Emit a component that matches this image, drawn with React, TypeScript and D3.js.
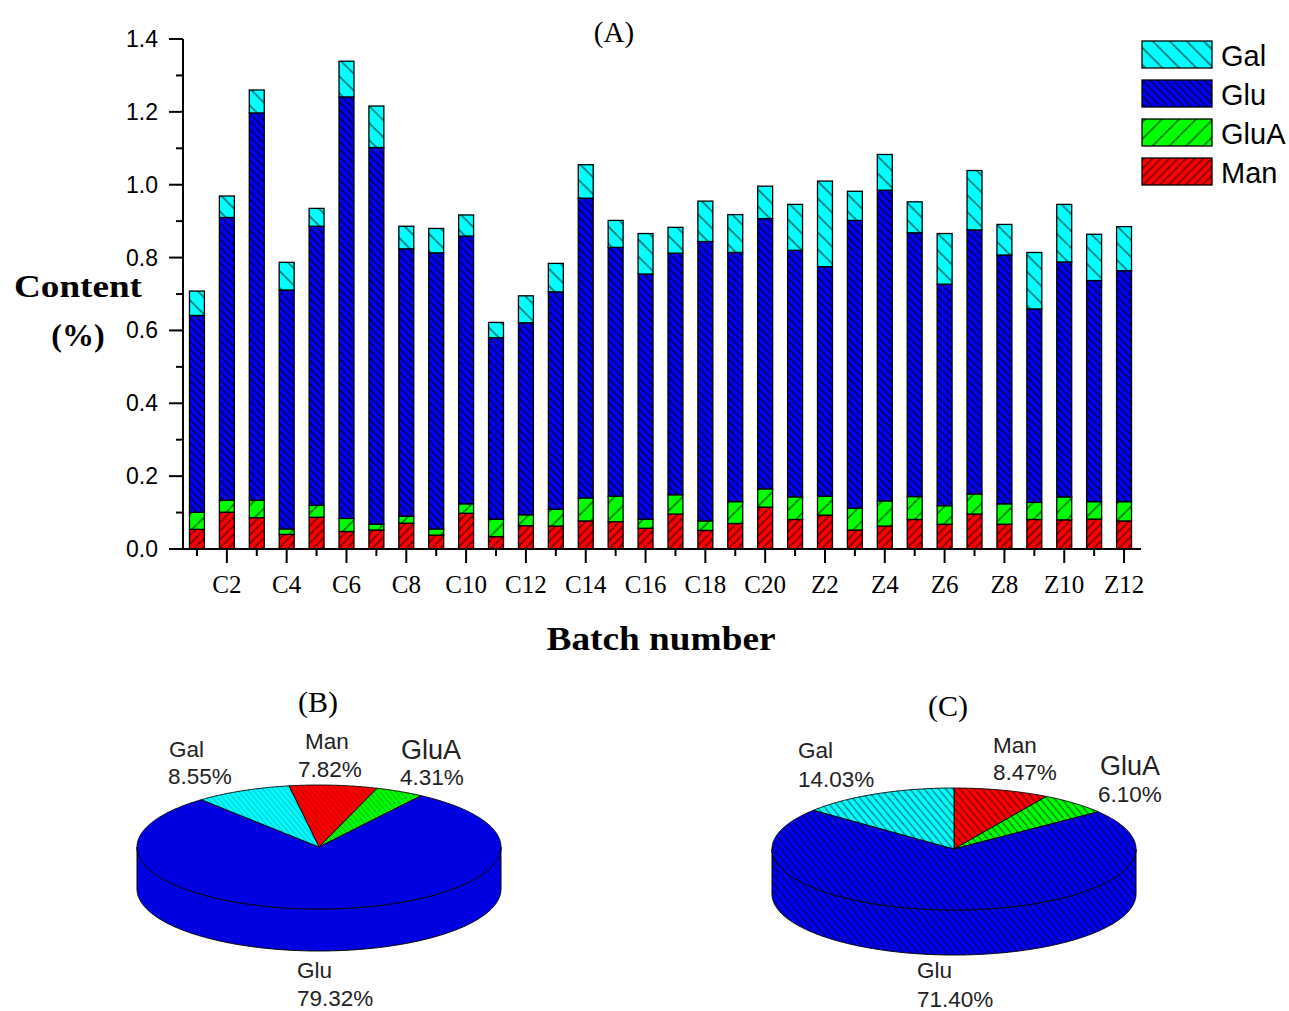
import React from 'react';
import * as d3 from 'd3';

// ---------- data ----------
const batches = [
  'C1','C2','C3','C4','C5','C6','C7','C8','C9','C10',
  'C11','C12','C13','C14','C15','C16','C17','C18','C19','C20',
  'Z1','Z2','Z3','Z4','Z5','Z6','Z7','Z8','Z9','Z10','Z11','Z12',
];
const man  = [0.054,0.101,0.086,0.040,0.087,0.048,0.052,0.071,0.038,0.098,0.034,0.064,0.063,0.077,0.075,0.057,0.096,0.051,0.070,0.115,0.081,0.093,0.052,0.063,0.081,0.068,0.096,0.068,0.081,0.080,0.082,0.077];
const glua = [0.047,0.033,0.048,0.015,0.033,0.036,0.016,0.019,0.017,0.026,0.048,0.030,0.046,0.063,0.070,0.025,0.053,0.026,0.060,0.050,0.062,0.052,0.060,0.069,0.063,0.051,0.055,0.056,0.047,0.063,0.048,0.053];
const glu  = [0.540,0.776,1.063,0.656,0.766,1.157,1.034,0.734,0.758,0.735,0.498,0.527,0.597,0.823,0.683,0.673,0.663,0.767,0.684,0.742,0.677,0.630,0.790,0.853,0.724,0.608,0.725,0.683,0.531,0.645,0.607,0.634];
const gal  = [0.067,0.059,0.063,0.076,0.049,0.098,0.114,0.062,0.067,0.058,0.042,0.074,0.078,0.092,0.074,0.111,0.071,0.111,0.104,0.089,0.126,0.235,0.080,0.098,0.085,0.139,0.163,0.084,0.155,0.158,0.127,0.121];

const stackKeys = ['Man', 'GluA', 'Glu', 'Gal'];
const legendKeys = ['Gal', 'Glu', 'GluA', 'Man'];
const yTicks = [0, 0.2, 0.4, 0.6, 0.8, 1.0, 1.2, 1.4];
const yMinorTicks = [0.1, 0.3, 0.5, 0.7, 0.9, 1.1, 1.3];
const xTickLabels = ['C2','C4','C6','C8','C10','C12','C14','C16','C18','C20','Z2','Z4','Z6','Z8','Z10','Z12'];

const pieKeys = ['Man', 'GluA', 'Glu', 'Gal'];
const pieB = [7.82, 4.31, 79.32, 8.55];
const pieC = [8.47, 6.10, 71.40, 14.03];

// ---------- styles ----------
const colors: Record<string, string> = { Gal: '#00ffff', Glu: '#0000f0', GluA: '#00ff00', Man: '#ff0000' };
const hatch: Record<string, { s: number; dir: number }> = {
  Gal: { s: 12, dir: -45 },
  Glu: { s: 5.5, dir: -45 },
  GluA: { s: 12, dir: 45 },
  Man: { s: 6, dir: 45 },
};
const pieLineB: Record<string, string> = { Gal: '#00a8b8', Glu: '#0000a0', GluA: '#00a000', Man: '#b00000' };

const SANS = '"Liberation Sans", Arial, Helvetica, sans-serif';
const SERIF = '"Liberation Serif", "Times New Roman", Times, serif';

const x = d3.scaleBand<string>().domain(batches).range([182, 1139]).paddingInner(0.5).paddingOuter(0.25);
const y = d3.scaleLinear().domain([0, 1.4]).range([549, 39]);

function Pie3D({ cx, cy, rx, ry, depth, values, startDeg, pat }: any) {
  const a0 = (startDeg * Math.PI) / 180;
  const arcs = d3.pie<number>().sort(null).startAngle(a0).endAngle(a0 + 2 * Math.PI)(values);
  const pt = (a: number, dy = 0): [number, number] => [cx + rx * Math.sin(a), cy - ry * Math.cos(a) + dy];
  const arcPts = (s: number, e: number, dy = 0) => {
    const n = Math.max(2, Math.ceil(Math.abs(e - s) / 0.01));
    return d3.range(n + 1).map((i) => pt(s + ((e - s) * i) / n, dy));
  };
  const line = d3.line();
  const sides: any[] = [];
  arcs.forEach((a, i) => {
    for (const k of [-1, 0, 1]) {
      const lo = Math.max(a.startAngle, Math.PI / 2 + 2 * Math.PI * k);
      const hi = Math.min(a.endAngle, (3 * Math.PI) / 2 + 2 * Math.PI * k);
      if (hi > lo) {
        const pts = [...arcPts(lo, hi, 0), ...arcPts(hi, lo, depth)];
        sides.push(<path key={`s${i}${k}`} d={line(pts) + 'Z'} fill={`url(#${pat}-${pieKeys[i]})`} stroke="#000" strokeWidth={1} />);
      }
    }
  });
  return (
    <g>
      {sides}
      {arcs.map((a, i) => {
        const pts: [number, number][] = [[cx, cy], ...arcPts(a.startAngle, a.endAngle, 0)];
        return <path key={i} d={line(pts) + 'Z'} fill={`url(#${pat}-${pieKeys[i]})`} stroke="#000" strokeWidth={0.9} strokeLinejoin="round" />;
      })}
    </g>
  );
}

export default function App() {
  const rows = batches.map((b, i) => ({ batch: b, Man: man[i], GluA: glua[i], Glu: glu[i], Gal: gal[i] }));
  const series = d3.stack<any>().keys(stackKeys)(rows);
  const bw = x.bandwidth();

  return (
    <svg width={1289} height={1011} style={{ position: 'absolute', left: 0, top: 0, display: 'block', background: '#fff' }}>
      <defs>
        {Object.keys(colors).map((k) => (
          <pattern key={k} id={`bar-${k}`} patternUnits="userSpaceOnUse" width={hatch[k].s} height={hatch[k].s} patternTransform={`rotate(${hatch[k].dir})`}>
            <rect width={hatch[k].s} height={hatch[k].s} fill={colors[k]} />
            <line x1={hatch[k].s / 2} y1={-1} x2={hatch[k].s / 2} y2={hatch[k].s + 1} stroke="#000" strokeWidth={0.9} />
          </pattern>
        ))}
        {Object.keys(colors).map((k) => (
          <pattern key={k} id={`pb-${k}`} patternUnits="userSpaceOnUse" width={4} height={4} patternTransform="rotate(-40)">
            <rect width={4} height={4} fill={colors[k]} />
            <line x1={2} y1={-1} x2={2} y2={5} stroke={pieLineB[k]} strokeWidth={0.8} />
          </pattern>
        ))}
        {Object.keys(colors).map((k) => (
          <pattern key={k} id={`pc-${k}`} patternUnits="userSpaceOnUse" width={5.5} height={5.5} patternTransform="rotate(-40)">
            <rect width={5.5} height={5.5} fill={colors[k]} />
            <line x1={2.75} y1={-1} x2={2.75} y2={6.5} stroke="#000" strokeWidth={0.8} strokeOpacity={0.85} />
          </pattern>
        ))}
      </defs>

      {/* Title A */}
      <text x={614} y={42} fontFamily={SERIF} fontSize={29} textAnchor="middle">(A)</text>

      {/* bars */}
      {series.map((s) => (
        <g key={s.key}>
          {s.map((d: any, i: number) => (
            <rect key={i} x={x(d.data.batch)} y={y(d[1])} width={bw} height={y(d[0]) - y(d[1])}
              fill={`url(#bar-${s.key})`} stroke="#000" strokeWidth={1.3} />
          ))}
        </g>
      ))}

      {/* y axis */}
      <line x1={183} y1={y(0)} x2={183} y2={y(1.4)} stroke="#000" strokeWidth={2} />
      {yTicks.map((t) => (
        <g key={t}>
          <line x1={169} x2={183} y1={y(t)} y2={y(t)} stroke="#000" strokeWidth={2} />
          <text x={158} y={y(t) + 8} fontFamily={SANS} fontSize={23} textAnchor="end">{t.toFixed(1)}</text>
        </g>
      ))}
      {yMinorTicks.map((t) => (
        <line key={t} x1={176} x2={183} y1={y(t)} y2={y(t)} stroke="#000" strokeWidth={2} />
      ))}

      {/* x axis */}
      <line x1={182} y1={y(0)} x2={1141} y2={y(0)} stroke="#000" strokeWidth={2} />
      {batches.map((b) => {
        const cxp = (x(b) as number) + bw / 2;
        const major = xTickLabels.includes(b);
        return (
          <g key={b}>
            <line x1={cxp} x2={cxp} y1={y(0)} y2={y(0) + (major ? 14 : 7)} stroke="#000" strokeWidth={2} />
            {major && (
              <text x={cxp} y={593} fontFamily={SERIF} fontSize={25} textAnchor="middle">{b}</text>
            )}
          </g>
        );
      })}

      {/* axis titles */}
      <text x={78} y={297} fontFamily={SERIF} fontWeight="bold" fontSize={32} textAnchor="middle" textLength={128} lengthAdjust="spacingAndGlyphs">Content</text>
      <text x={78} y={346} fontFamily={SERIF} fontWeight="bold" fontSize={32} textAnchor="middle">(%)</text>
      <text x={661} y={650} fontFamily={SERIF} fontWeight="bold" fontSize={33} textAnchor="middle" textLength={229} lengthAdjust="spacingAndGlyphs">Batch number</text>

      {/* legend */}
      {legendKeys.map((k, i) => (
        <g key={k}>
          <rect x={1142} y={41 + i * 39} width={70} height={27} fill={`url(#bar-${k})`} stroke="#000" strokeWidth={1.3} />
          <text x={1221} y={66 + i * 39} fontFamily={SANS} fontSize={29}>{k}</text>
        </g>
      ))}

      {/* pie B */}
      <text x={318} y={712} fontFamily={SERIF} fontSize={30} textAnchor="middle">(B)</text>
      <Pie3D cx={319} cy={847} rx={182} ry={62} depth={42} values={pieB} startDeg={-9.5} pat="pb" />
      <g fontFamily={SANS} fontSize={22.5} fill="#222">
        <text x={169} y={757}>Gal</text>
        <text x={168} y={784}>{pieB[3].toFixed(2)}%</text>
        <text x={305} y={749}>Man</text>
        <text x={298} y={777}>{pieB[0].toFixed(2)}%</text>
        <text x={401} y={759} fontSize={27}>GluA</text>
        <text x={400} y={785}>{pieB[1].toFixed(2)}%</text>
        <text x={297} y={978}>Glu</text>
        <text x={297} y={1006}>{pieB[2].toFixed(2)}%</text>
      </g>

      {/* pie C */}
      <text x={948} y={716} fontFamily={SERIF} fontSize={30} textAnchor="middle">(C)</text>
      <Pie3D cx={954} cy={849} rx={182} ry={61} depth={45} values={pieC} startDeg={0} pat="pc" />
      <g fontFamily={SANS} fontSize={22.5} fill="#222">
        <text x={798} y={758}>Gal</text>
        <text x={798} y={787}>{pieC[3].toFixed(2)}%</text>
        <text x={993} y={753}>Man</text>
        <text x={993} y={780}>{pieC[0].toFixed(2)}%</text>
        <text x={1100} y={775} fontSize={27}>GluA</text>
        <text x={1098} y={802}>{pieC[1].toFixed(2)}%</text>
        <text x={917} y={978}>Glu</text>
        <text x={917} y={1007}>{pieC[2].toFixed(2)}%</text>
      </g>
    </svg>
  );
}
